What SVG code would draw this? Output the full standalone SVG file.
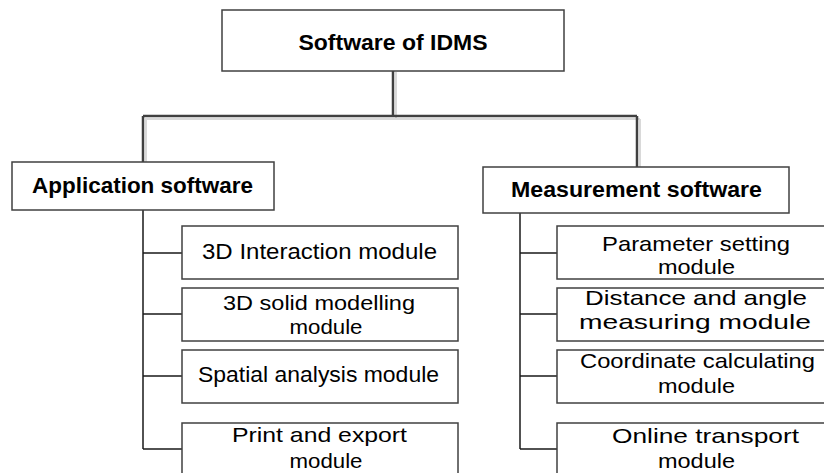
<svg xmlns="http://www.w3.org/2000/svg" width="824" height="473" viewBox="0 0 824 473">
<style>
.box{fill:#fff;stroke:#404040;stroke-width:1.5}
.t{font-family:"Liberation Sans",Arial,sans-serif;font-size:22.5px;fill:#000;text-anchor:middle}
.t2{font-family:"Liberation Sans",Arial,sans-serif;font-size:21px;fill:#000;text-anchor:middle}
.b{font-family:"Liberation Sans",Arial,sans-serif;font-size:22px;font-weight:bold;fill:#000;text-anchor:middle}
.main{stroke:#404040;stroke-width:2.5;fill:none}
.shadow{stroke:#d9d9d9;stroke-width:2;fill:none}
.thin{stroke:#1a1a1a;stroke-width:1.5;fill:none}
</style>
<rect width="824" height="473" fill="#fff"/>
<g id="connectors">
  <path class="shadow" d="M396 72 V119 M145 119 H640 M146 119 V162 M640 119 V167"/>
  <path class="main" d="M393 71 V116 M143 116 H637 M143 116 V162 M637 116 V167"/>
  <path class="thin" d="M143 210 V449 M143 253 H182 M143 314 H182 M143 376 H182 M143 449 H182"/>
  <path class="thin" d="M520 213 V449 M520 253 H557 M520 314 H557 M520 376 H557 M520 449 H557"/>
</g>
<g id="root">
  <rect class="box" x="222" y="10" width="342" height="61"/>
  <text class="b" x="393" y="50" font-size="23" textLength="189" lengthAdjust="spacingAndGlyphs">Software of IDMS</text>
</g>
<g id="app">
  <rect class="box" x="12" y="162" width="262" height="48"/>
  <text class="b" x="142.5" y="193" textLength="221" lengthAdjust="spacingAndGlyphs">Application software</text>
</g>
<g id="meas">
  <rect class="box" x="483" y="167" width="306" height="46"/>
  <text class="b" x="636.5" y="197" textLength="251" lengthAdjust="spacingAndGlyphs">Measurement software</text>
</g>
<g id="app1">
  <rect class="box" x="182" y="226" width="276" height="53"/>
  <text class="t" x="319.5" y="259" textLength="235" lengthAdjust="spacingAndGlyphs">3D Interaction module</text>
</g>
<g id="app2">
  <rect class="box" x="182" y="288" width="276" height="53"/>
  <text class="t2" x="319" y="310" textLength="192" lengthAdjust="spacingAndGlyphs">3D solid modelling</text>
  <text class="t2" x="326" y="334" textLength="73" lengthAdjust="spacingAndGlyphs">module</text>
</g>
<g id="app3">
  <rect class="box" x="182" y="350" width="276" height="53"/>
  <text class="t" x="318.5" y="382" textLength="241" lengthAdjust="spacingAndGlyphs">Spatial analysis module</text>
</g>
<g id="app4">
  <rect class="box" x="182" y="423" width="276" height="60"/>
  <text class="t2" x="319.5" y="442" textLength="175" lengthAdjust="spacingAndGlyphs">Print  and export</text>
  <text class="t2" x="326" y="468" textLength="73" lengthAdjust="spacingAndGlyphs">module</text>
</g>
<g id="meas1">
  <rect class="box" x="557" y="226" width="280" height="53"/>
  <text class="t2" x="696" y="251" textLength="188" lengthAdjust="spacingAndGlyphs">Parameter setting</text>
  <text class="t2" x="696.5" y="274" textLength="77" lengthAdjust="spacingAndGlyphs">module</text>
</g>
<g id="meas2">
  <rect class="box" x="557" y="288" width="280" height="53"/>
  <text class="t2" x="696" y="305" textLength="222" lengthAdjust="spacingAndGlyphs">Distance and angle</text>
  <text class="t2" x="695" y="329" textLength="232" lengthAdjust="spacingAndGlyphs">measuring module</text>
</g>
<g id="meas3">
  <rect class="box" x="557" y="350" width="280" height="53"/>
  <text class="t2" x="697.5" y="368" textLength="235" lengthAdjust="spacingAndGlyphs">Coordinate calculating</text>
  <text class="t2" x="696.5" y="393" textLength="77" lengthAdjust="spacingAndGlyphs">module</text>
</g>
<g id="meas4">
  <rect class="box" x="557" y="423" width="280" height="60"/>
  <text class="t2" x="705.5" y="443" textLength="187" lengthAdjust="spacingAndGlyphs">Online transport</text>
  <text class="t2" x="696.5" y="468" textLength="77" lengthAdjust="spacingAndGlyphs">module</text>
</g>
</svg>
